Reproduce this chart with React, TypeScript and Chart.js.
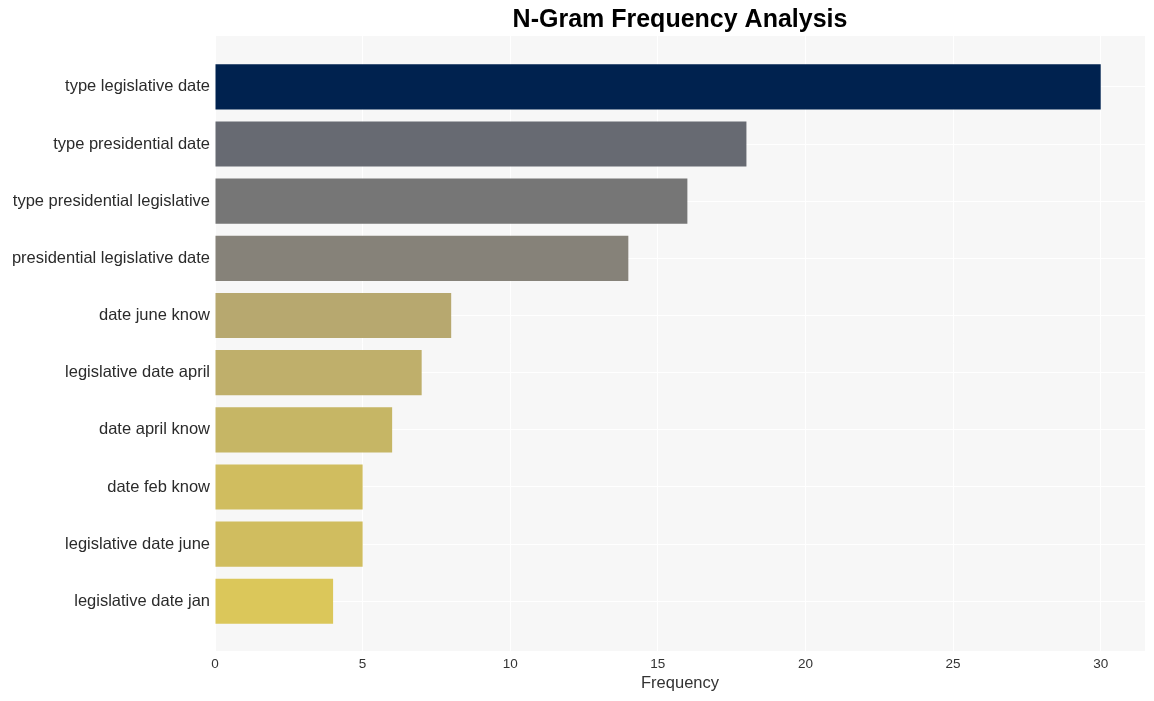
import React, { useEffect, useRef } from "react";
import { Chart, registerables } from "chart.js";

Chart.register(...registerables);

const categories = [
  "type legislative date",
  "type presidential date",
  "type presidential legislative",
  "presidential legislative date",
  "date june know",
  "legislative date april",
  "date april know",
  "date feb know",
  "legislative date june",
  "legislative date jan",
];
const frequencies = [30, 18, 16, 14, 8, 7, 6, 5, 5, 4];
const barColors = [
  "#00224f",
  "#676a72",
  "#767676",
  "#868279",
  "#b7a86f",
  "#bfaf6b",
  "#c6b665",
  "#d0bd5f",
  "#d0bd5f",
  "#dbc75a",
];
const xTicks = [0, 5, 10, 15, 20, 25, 30];
const titleText = "N-Gram Frequency Analysis";
const xTitle = "Frequency";

const FONT = "'Liberation Sans', Arial, Helvetica, sans-serif";

const bgPlugin = {
  id: "plotBg",
  beforeDraw(chart: any) {
    const { ctx, chartArea } = chart;
    ctx.save();
    ctx.fillStyle = "#f7f7f7";
    ctx.fillRect(chartArea.left, chartArea.top, chartArea.right - chartArea.left, chartArea.bottom - chartArea.top);
    ctx.restore();
  },
};

export default function App() {
  const ref = useRef<HTMLCanvasElement | null>(null);

  useEffect(() => {
    document.body.style.margin = "0";
    const canvas = ref.current;
    if (!canvas) return;
    const chart = new Chart(canvas, {
      type: "bar",
      data: {
        datasets: [
          {
            data: frequencies.map((v, i) => ({ x: v, y: i })),
            backgroundColor: barColors,
            borderWidth: 0,
            barPercentage: 0.79,
            categoryPercentage: 1,
          },
        ],
      },
      plugins: [bgPlugin],
      options: {
        indexAxis: "y",
        animation: false,
        responsive: false,
        devicePixelRatio: 1,
        layout: { padding: { left: 0, right: 9, top: 0, bottom: 0 } },
        plugins: {
          legend: { display: false },
          tooltip: { enabled: false },
          title: {
            display: true,
            text: titleText,
            fullSize: false,
            color: "#000",
            font: { family: FONT, size: 25, weight: "bold" },
            padding: { top: 5, bottom: 1 },
          },
        },
        scales: {
          x: {
            type: "linear",
            min: 0,
            max: 31.5,
            offset: false,
            grid: { color: "#ffffff", lineWidth: 1, drawTicks: false, offset: false },
            border: { display: false },
            afterBuildTicks: (scale: any) => {
              scale.ticks = xTicks.map((v) => ({ value: v }));
            },
            afterFit: (scale: any) => {
              scale.height = 50;
            },
            ticks: {
              color: "#333",
              padding: 5,
              font: { family: FONT, size: 13.5 },
            },
            title: {
              display: true,
              text: xTitle,
              color: "#333",
              font: { family: FONT, size: 16.5 },
              padding: { top: 0, bottom: 8 },
            },
          },
          y: {
            type: "linear",
            reverse: true,
            offset: false,
            min: -0.89,
            max: 9.87,
            grid: { color: "#ffffff", lineWidth: 1, drawTicks: false, offset: false },
            border: { display: false },
            afterBuildTicks: (scale: any) => {
              scale.ticks = categories.map((_, i) => ({ value: i }));
            },
            afterFit: (scale: any) => {
              scale.width = 215;
            },
            ticks: {
              color: "#2b2b2b",
              padding: 5,
              font: { family: FONT, size: 16.5 },
              callback: (v: any) => categories[Math.round(Number(v))] ?? "",
            },
          },
        },
      },
    } as any);
    return () => chart.destroy();
  }, []);

  return (
    <div style={{ width: 1154, height: 701 }}>
      <canvas ref={ref} width={1154} height={701} style={{ display: "block" }} />
    </div>
  );
}
